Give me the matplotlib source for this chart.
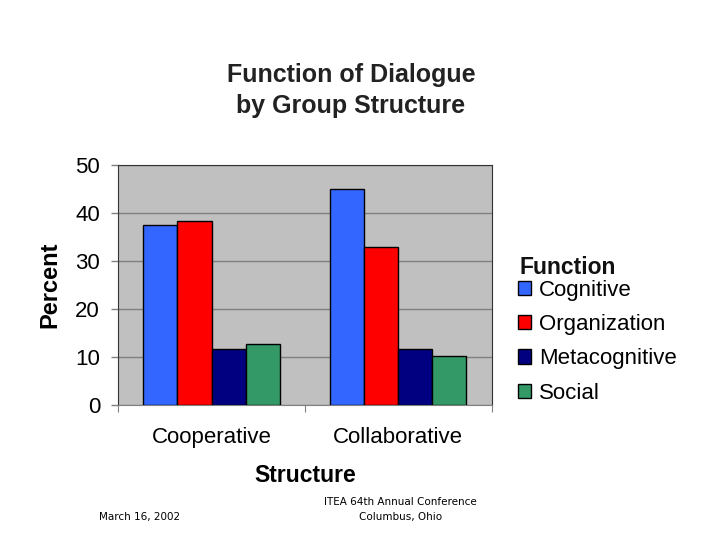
import matplotlib
matplotlib.use("Agg")
import matplotlib.pyplot as plt
import numpy as np
from matplotlib.patches import Patch

plt.rcParams['font.family'] = ['Liberation Sans', 'DejaVu Sans']

# data
structures = ['Cooperative', 'Collaborative']
functions = ['Cognitive', 'Organization', 'Metacognitive', 'Social']
cognitive = [37.6, 45.1]
organization = [38.3, 32.9]
metacognitive = [11.6, 11.6]
social = [12.7, 10.3]
colors = ['#3366FF', '#FF0000', '#000080', '#339966']
yticks = [0, 10, 20, 30, 40, 50]

fig = plt.figure(figsize=(7.2, 5.4), dpi=100)
ax = fig.add_axes([0.164, 0.25, 0.519, 0.444])
ax.set_facecolor('#C0C0C0')

x = np.arange(len(structures))
w = 0.182
series = [cognitive, organization, metacognitive, social]
for i, vals in enumerate(series):
    ax.bar(x + (i - 1.5) * w, vals, w, color=colors[i], edgecolor='black',
           linewidth=1, zorder=3, label=functions[i])

ax.set_xlim(-0.5, 1.5)
ax.set_ylim(0, 50)
ax.set_yticks(yticks)
ax.set_yticklabels([str(t) for t in yticks], fontsize=16)
ax.yaxis.grid(True, color='#808080', linewidth=1, zorder=0)
ax.tick_params(axis='y', length=5, width=1, color='#808080', pad=8)

ax.set_xticks([-0.5, 0.5, 1.5])
ax.set_xticklabels([])
ax.set_xticks(x, minor=True)
ax.set_xticklabels(structures, minor=True, fontsize=16)
ax.tick_params(axis='x', which='major', length=5, direction='out', color='#808080')
ax.tick_params(axis='x', which='minor', length=0, pad=16)

for s in ['top', 'left', 'right']:
    ax.spines[s].set_color('#333333')
ax.spines['bottom'].set_color('#808080')

ax.set_xlabel('Structure', fontsize=16.5, fontweight='bold', labelpad=11)
ax.set_ylabel('Percent', fontsize=17, fontweight='bold', labelpad=10)

fig.text(0.4875, 0.862, 'Function of Dialogue', ha='center', va='center',
         fontsize=18, fontweight='bold', color='#222222')
fig.text(0.4875, 0.803, 'by Group Structure', ha='center', va='center',
         fontsize=18, fontweight='bold', color='#222222')

# legend title drawn separately so it sits close to the first entry
fig.text(0.722, 0.504, 'Function', ha='left', va='center',
         fontsize=16.5, fontweight='bold', color='#111111')
handles = [Patch(facecolor=c, edgecolor='black', label=f) for c, f in zip(colors, functions)]
leg = fig.legend(handles=handles, loc='upper left',
                 bbox_to_anchor=(0.719, 0.482), frameon=False, fontsize=16,
                 handlelength=0.6, handleheight=0.6, handletextpad=0.35,
                 labelspacing=0.6, borderaxespad=0, borderpad=0)

fig.text(0.194, 0.042, 'March 16, 2002', ha='center', va='center',
         fontsize=7.5, family='DejaVu Sans')
fig.text(0.556, 0.07, 'ITEA 64th Annual Conference', ha='center', va='center',
         fontsize=7.5, family='DejaVu Sans')
fig.text(0.556, 0.042, 'Columbus, Ohio', ha='center', va='center',
         fontsize=7.5, family='DejaVu Sans')

fig.savefig('out.png', dpi=100)
